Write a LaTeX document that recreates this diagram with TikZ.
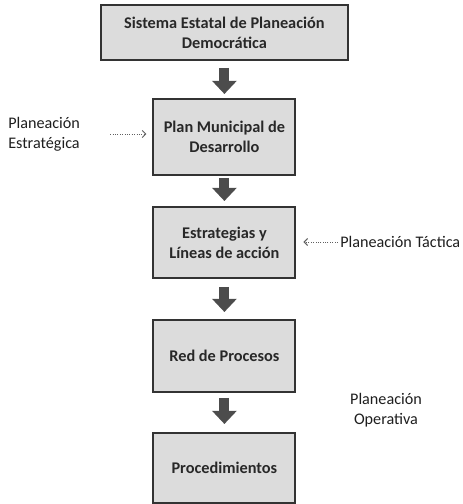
\documentclass[tikz,border=0pt]{standalone}
\usepackage{fontspec}
\setmainfont{Carlito}
\usetikzlibrary{arrows.meta}

\definecolor{boxfill}{HTML}{DCDCDC}
\definecolor{boxline}{HTML}{333333}
\definecolor{boxtext}{HTML}{282828}
\definecolor{arrowgray}{HTML}{4C4C4C}
\definecolor{notetext}{HTML}{1E1E1E}
\definecolor{pointgray}{HTML}{606060}

\begin{document}
\begin{tikzpicture}

\tikzstyle{stage} = [rectangle, draw=boxline, line width=1.4pt, fill=boxfill, text=boxtext, font=\fontsize{11.6}{14.2}\selectfont\bfseries, align=center, inner sep=0pt]
\tikzstyle{bigarrow} = [draw=arrowgray, line width=0.25cm, -{Triangle[width=0.6cm,length=0.33cm]}]
\tikzstyle{note} = [font=\fontsize{11.5}{14.2}\selectfont, text=notetext, inner sep=0pt]
\tikzstyle{pointer} = [densely dotted, draw=pointgray, line width=0.7pt, -{Straight Barb[length=2.5pt,width=5pt]}]

\useasboundingbox (0,0) rectangle (11.575,12.6);

\node[stage, minimum width=6.175cm, minimum height=1.375cm] (sistema) at (5.61, 11.79) {Sistema Estatal de Planeación\\Democrática};
\node[stage, minimum width=3.55cm, minimum height=1.9cm] (plan) at (5.61, 9.175) {Plan Municipal de\\Desarrollo};
\node[stage, minimum width=3.55cm, minimum height=1.775cm] (lineas) at (5.61, 6.5375) {Estrategias y\\Líneas de acción};
\node[stage, minimum width=3.55cm, minimum height=1.8cm] (procesos) at (5.61, 3.7) {Red de Procesos};
\node[stage, minimum width=3.55cm, minimum height=1.75cm] (proced) at (5.61, 0.9) {Procedimientos};

\draw[bigarrow] ([yshift=-0.175cm]sistema.south) -- ([yshift=0.1cm]plan.north);
\draw[bigarrow] ([yshift=-0.05cm]plan.south) -- ([yshift=0.125cm]lineas.north);
\draw[bigarrow] ([yshift=-0.2cm]lineas.south) -- ([yshift=0.175cm]procesos.north);
\draw[bigarrow] ([yshift=-0.125cm]procesos.south) -- ([yshift=0.2cm]proced.north);

\node[note, anchor=west, align=left] (estrategica) at (0.2, 9.25) {Planeación\\Estratégica};
\node[note, anchor=west] (tactica) at (8.5, 6.55) {Planeación Táctica};
\node[note, align=center] (operativa) at (9.65, 2.35) {Planeación\\Operativa};

\draw[pointer, shorten <=0.75cm, shorten >=0.15cm] (estrategica.east) -- (estrategica.east -| plan.west);
\draw[pointer, shorten <=0.05cm, shorten >=0.175cm] (tactica.west) -- (tactica.west -| lineas.east);

\end{tikzpicture}
\end{document}
